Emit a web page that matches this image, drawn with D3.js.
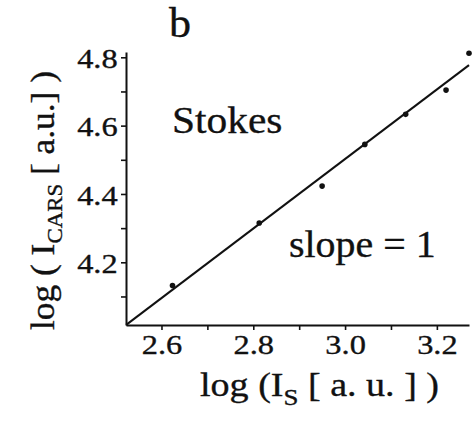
<!DOCTYPE html>
<html>
<head>
<meta charset="utf-8">
<script src="https://cdn.jsdelivr.net/npm/d3@7"></script>
<style>
  html, body { margin: 0; padding: 0; background: #fff; }
  svg { display: block; font-family: "Liberation Serif", "Times New Roman", serif; }
  .label { stroke: #111; stroke-width: 0.35px; }
</style>
</head>
<body>
<svg id="chart" width="475" height="421"></svg>
<script>
// Measured points: log of Stokes intensity vs log of CARS intensity
const logStokes = [2.624, 2.813, 2.950, 3.043, 3.132, 3.220, 3.270];
const logCars   = [4.132, 4.315, 4.423, 4.545, 4.633, 4.704, 4.812];

// Fitted line (slope ~ 1), given by its two end points
const fitX = [2.523, 3.270];
const fitY = [4.017, 4.777];

// Axis ticks
const xMajorTicks = [2.6, 2.8, 3.0, 3.2];
const xMinorTicks = [2.7, 2.9, 3.1];
const yMajorTicks = [4.2, 4.4, 4.6, 4.8];
const yMinorTicks = [4.1, 4.3, 4.5, 4.7];

const svg = d3.select("#chart");
const ink = "#111";

const x = d3.scaleLinear().domain([2.5227, 3.27]).range([126, 469]);
const y = d3.scaleLinear().domain([4.0165, 4.8155]).range([325, 52]);

// Axes
const xAxis = d3.axisBottom(x)
  .tickValues([...xMajorTicks, ...xMinorTicks])
  .tickSize(5)
  .tickSizeOuter(0)
  .tickFormat(d => xMajorTicks.includes(d) ? d3.format(".1f")(d) : "");
const yAxis = d3.axisLeft(y)
  .tickValues([...yMajorTicks, ...yMinorTicks])
  .tickSize(5)
  .tickSizeOuter(0)
  .tickFormat(d => yMajorTicks.includes(d) ? d3.format(".1f")(d) : "");

const gx = svg.append("g").attr("transform", `translate(0,${y.range()[0]})`).call(xAxis);
const gy = svg.append("g").attr("transform", `translate(${x.range()[0]},0)`).call(yAxis);

[gx, gy].forEach(g => {
  g.select(".domain").attr("stroke", ink).attr("stroke-width", 2);
  g.selectAll(".tick line").attr("stroke", ink).attr("stroke-width", 1.6);
  g.selectAll(".tick text")
    .attr("fill", ink)
    .attr("class", "label")
    .style("font-family", "'Liberation Serif', serif")
    .style("font-size", "27px");
});
// Tick labels are set slightly wide
gx.selectAll(".tick text").attr("dy", "0.95em").attr("y", 3)
  .attr("transform", "scale(1.2,1)");
gy.selectAll(".tick text").attr("x", -7).attr("dy", "0.38em")
  .attr("transform", "scale(1.2,1)");

// Fit line
svg.append("path")
  .datum(d3.zip(fitX, fitY))
  .attr("d", d3.line().x(d => x(d[0])).y(d => y(d[1])))
  .attr("fill", "none")
  .attr("stroke", ink)
  .attr("stroke-width", 2);

// Data points
svg.append("g").selectAll("circle")
  .data(d3.zip(logStokes, logCars))
  .join("circle")
  .attr("cx", d => x(d[0]))
  .attr("cy", d => y(d[1]))
  .attr("r", 2.8)
  .attr("fill", ink);

// Panel letter and annotations
svg.append("text").attr("class", "label")
  .attr("transform", "translate(169,37) scale(1.05,1)")
  .style("font-size", "42px").attr("fill", ink).text("b");
svg.append("text").attr("class", "label")
  .attr("transform", "translate(172,133) scale(1.09,1)")
  .style("font-size", "38px").attr("fill", ink).text("Stokes");
svg.append("text").attr("class", "label")
  .attr("transform", "translate(289,257) scale(1.05,1)")
  .style("font-size", "38px").attr("fill", ink).text("slope = 1");

// X axis title
const xt = svg.append("text").attr("class", "label")
  .attr("transform", "translate(200,396) scale(1.12,1)")
  .style("font-size", "34px").attr("fill", ink);
xt.append("tspan").text("log (I");
xt.append("tspan").attr("dy", 9).style("font-size", "24px").text("S");
xt.append("tspan").attr("dy", -9).text(" [ a. u. ] )");

// Y axis title
const yt = svg.append("text").attr("class", "label")
  .attr("transform", "translate(54,330) rotate(-90) scale(1.04,1)")
  .style("font-size", "34px").attr("fill", ink);
yt.append("tspan").text("log ( I");
yt.append("tspan").attr("dy", 8).style("font-size", "22px").text("CARS");
yt.append("tspan").attr("dy", -8).text(" [ a.u.] )");
</script>
</body>
</html>
